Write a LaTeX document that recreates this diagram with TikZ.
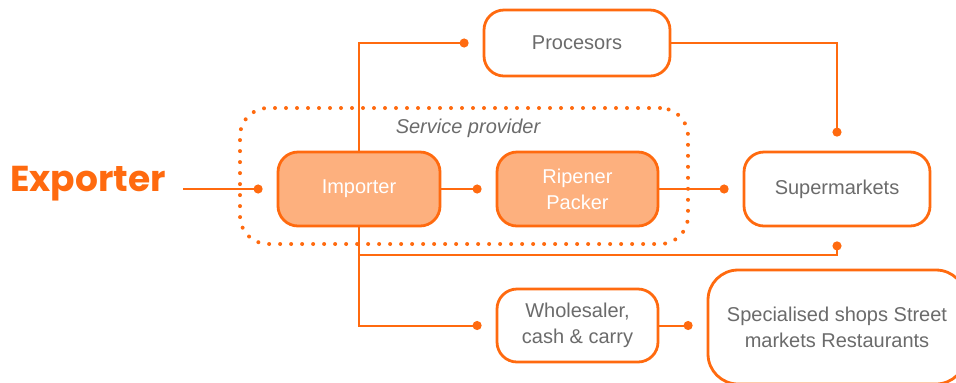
\documentclass[tikz,border=0pt]{standalone}
\usepackage{fontspec}
\setmainfont{Liberation Sans}
\newfontfamily\titulo{Poppins}
\usepackage{xcolor}
\usepackage{tikz}
\usetikzlibrary{arrows.meta,positioning,calc}
\definecolor{naranja}{HTML}{FF6A0F}
\definecolor{naranjaclaro}{HTML}{FDB07E}
\definecolor{gris}{HTML}{6B6B6B}
\tikzset{
  caja/.style={draw=naranja,fill=white,rounded corners=10pt,line width=1.4pt,align=center,font=\fontsize{10}{13}\selectfont,text=gris,inner sep=3pt},
  cajallena/.style={caja,fill=naranjaclaro,text=white},
  zona/.style={draw=naranja,line width=2pt,dash pattern=on 0pt off 5.5pt,line cap=round,rounded corners=14pt},
  linea/.style={-{Circle[length=4.5pt]},naranja,line width=1pt,shorten >=7pt},
  etiqueta/.style={font=\fontsize{10}{12}\selectfont\itshape,text=gris,inner sep=1pt},
}

\begin{document}
\begin{tikzpicture}[x=0.5pt,y=-0.5pt]
  \useasboundingbox (0,0) rectangle (956,382);
  \clip (0,0) rectangle (956,382);
  \node[zona,minimum width=224pt,minimum height=68pt] (zona) at (464,176) {};
  \node[etiqueta] (serv) at (468,128) {Service provider};
  \node[font=\titulo\bfseries\fontsize{18}{20}\selectfont,text=naranja,inner sep=0pt] (exp) at (88,184) {Exporter};
  \node[cajallena,minimum width=81pt,minimum height=37pt] (imp) at (359,189) {Importer};
  \node[cajallena,minimum width=80.5pt,minimum height=37pt] (rip) at (577.5,189) {Ripener\\Packer};
  \node[caja,minimum width=93pt,minimum height=37pt] (sup) at (837,189) {Supermarkets};
  \node[caja,minimum width=93pt,minimum height=33pt] (proc) at (577,43) {Procesors};
  \node[caja,minimum width=80.5pt,minimum height=36.5pt] (whole) at (577.5,325.5) {Wholesaler,\\cash \& carry};
  \node[caja,rounded corners=15pt,minimum width=129pt,minimum height=57pt] (esp) at (837,327) {Specialised shops Street\\markets Restaurants};
  \draw[linea,shorten <=8.5pt] (exp.east |- imp.west) -- (imp.west);
  \draw[linea] (imp) -- (rip);
  \draw[linea] (rip) -- (sup);
  \draw[linea] (imp.north) |- (proc.west);
  \draw[linea] (proc.east) -| (sup.north);
  \coordinate (rama) at (imp.south |- 0,255);
  \draw[linea] (imp.south) -- (rama) -| (sup.south);
  \draw[linea] (rama) |- (whole.west);
  \draw[linea] (whole.east) -- (whole.east -| esp.west);
\end{tikzpicture}
\end{document}
